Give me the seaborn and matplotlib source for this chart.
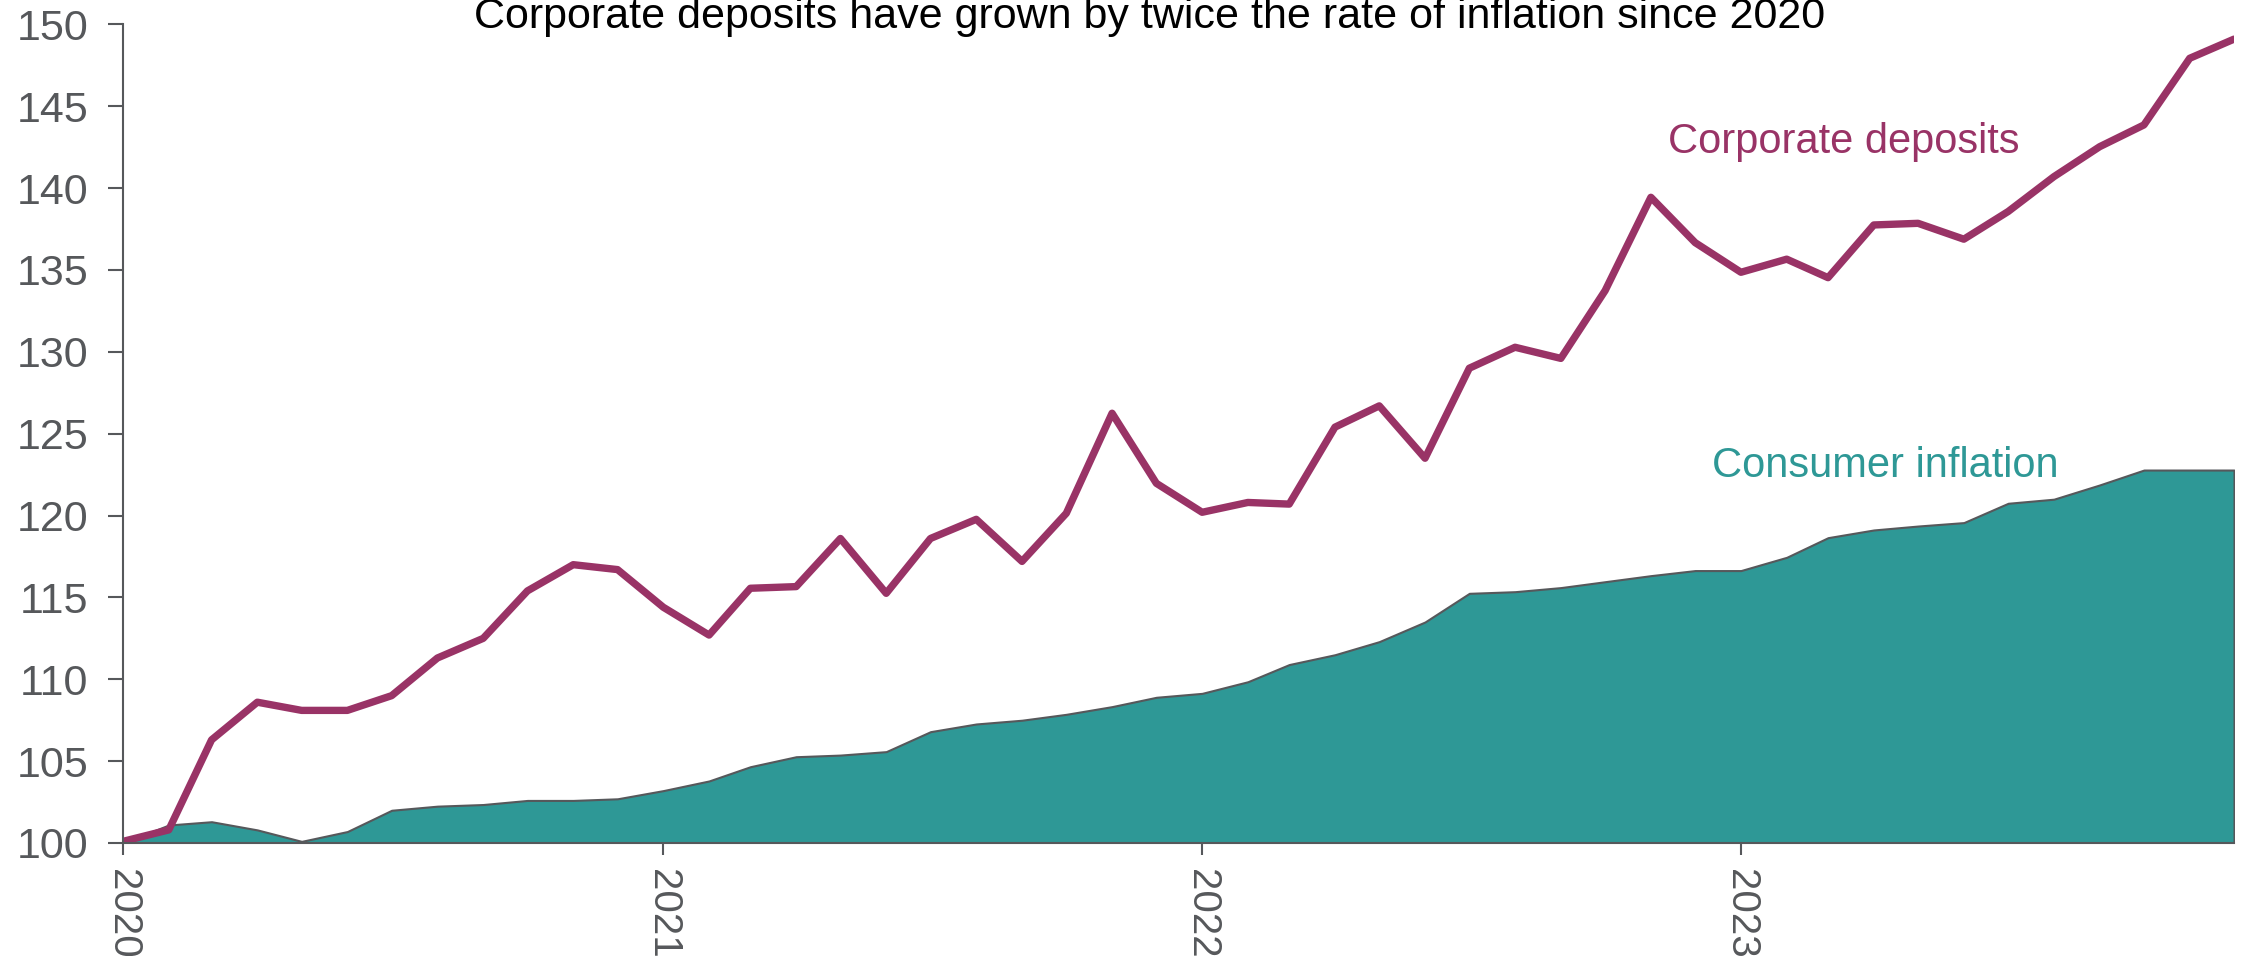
import numpy as np
import pandas as pd
import matplotlib
matplotlib.use("Agg")
import matplotlib.pyplot as plt
import seaborn as sns

# ---- data ----
months = pd.date_range("2020-01-01", "2023-12-01", freq="MS")
deposits = [100.1, 100.8, 106.3, 108.6, 108.1, 108.1, 109.0, 111.3, 112.5, 115.4,
            117.0, 116.7, 114.4, 112.7, 115.56, 115.66, 118.6, 115.25, 118.6, 119.77,
            117.2, 120.14, 126.25, 121.97, 120.2, 120.8, 120.7, 125.4, 126.7, 123.5,
            129.0, 130.28, 129.6, 133.74, 139.44, 136.67, 134.86, 135.66, 134.53, 137.75,
            137.85, 136.88, 138.57, 140.7, 142.53, 143.86, 147.93, 149.1]
inflation = [100.0, 101.1, 101.3, 100.8, 100.1, 100.7, 102.0, 102.25, 102.35, 102.6,
             102.6, 102.7, 103.2, 103.79, 104.66, 105.27, 105.37, 105.58, 106.8, 107.27,
             107.5, 107.86, 108.33, 108.9, 109.14, 109.85, 110.9, 111.5, 112.3, 113.5,
             115.25, 115.35, 115.6, 115.96, 116.33, 116.64, 116.64, 117.45, 118.65, 119.12,
             119.36, 119.57, 120.75, 121.0, 121.87, 122.78, 122.78, 122.78]
y_ticks = [100, 105, 110, 115, 120, 125, 130, 135, 140, 145, 150]
year_ticks = pd.to_datetime(["2020-01-01", "2021-01-01", "2022-01-01", "2023-01-01"])
year_labels = ["2020", "2021", "2022", "2023"]
title = "Corporate deposits have grown by twice the rate of inflation since 2020"
dep_label = "Corporate deposits"
inf_label = "Consumer inflation"

df = pd.DataFrame({"date": months, "deposits": deposits, "inflation": inflation})

# ---- style ----
sns.set_style("ticks")
plt.rcParams["font.family"] = ["Liberation Sans", "DejaVu Sans"]

PURPLE = "#993366"
TEAL = "#2E9896"
GREY = "#56585B"

fig = plt.figure(figsize=(22.52, 9.56), dpi=100)
ax = fig.add_axes([123 / 2252, 1 - 843 / 956, (2234 - 123) / 2252, (843 - 24.4) / 956])

ax.fill_between(df["date"], df["inflation"], 100, facecolor=TEAL,
                edgecolor=GREY, linewidth=1.5, zorder=1)
sns.lineplot(data=df, x="date", y="deposits", ax=ax, color=PURPLE,
             linewidth=5.3, zorder=3)

ax.set_xlim(months[0], months[-1])
ax.set_ylim(100, 150)
ax.set_yticks(y_ticks)
ax.set_xticks(year_ticks)
ax.set_xticklabels(year_labels, rotation=-90, ha="center", va="top")
ax.set_xlabel("")
ax.set_ylabel("")

sns.despine(ax=ax)
for s in ["left", "bottom"]:
    ax.spines[s].set_color(GREY)
    ax.spines[s].set_linewidth(1.5)
    ax.spines[s].set_zorder(4)
ax.tick_params(axis="both", colors=GREY, labelcolor=GREY, width=1.5)
ax.tick_params(axis="y", labelsize=31, length=10.8, pad=14)
ax.tick_params(axis="x", labelsize=29, length=8.4, pad=10)

ax.text(0.7321, 0.8434, dep_label, transform=ax.transAxes, color=PURPLE,
        fontsize=30, ha="left", va="baseline")
ax.text(0.7525, 0.4468, inf_label, transform=ax.transAxes, color=TEAL,
        fontsize=30, ha="left", va="baseline")

fig.text(1150 / 2252, 1 - 28 / 956, title, ha="center", va="baseline",
         fontsize=31, color="black")

fig.savefig("out.png", dpi=100)
